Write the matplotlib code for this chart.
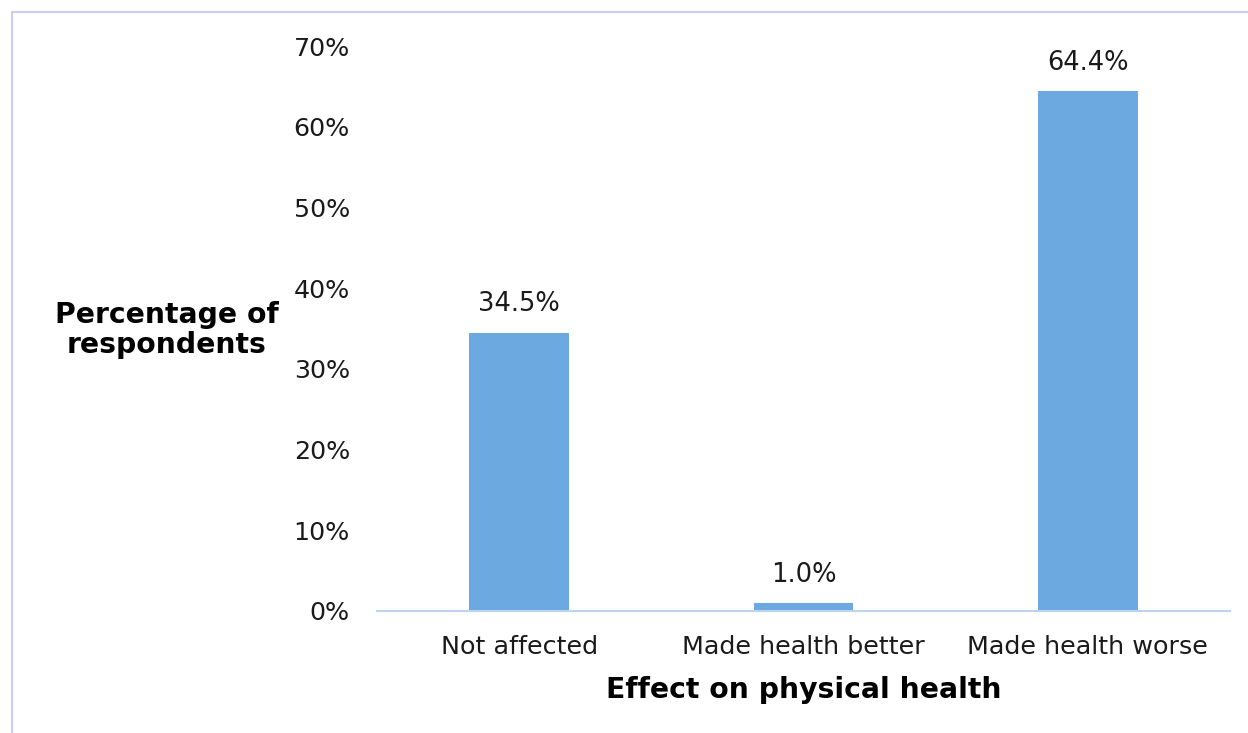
import matplotlib.pyplot as plt
from matplotlib.lines import Line2D
from matplotlib.ticker import FuncFormatter

categories = ['Not affected', 'Made health better', 'Made health worse']
percentages = [34.5, 1.0, 64.4]
y_ticks = [0, 10, 20, 30, 40, 50, 60, 70]

BAR_COLOR = '#6CA9E1'
AXIS_COLOR = '#BDD4EE'
BORDER_COLOR = '#C9CEF4'
TEXT_COLOR = '#1A1A1A'


def main():
    plt.rcParams['font.family'] = ['DejaVu Sans']

    fig = plt.figure(figsize=(12.48, 7.33), dpi=100)
    W, H = 1248, 733
    ax = fig.add_axes([377 / W, 1 - 611 / H, (1230 - 377) / W, (611 - 46) / H])

    x = range(len(categories))
    ax.bar(x, percentages, width=0.35, color=BAR_COLOR, zorder=2)

    for xi, v in zip(x, percentages):
        ax.annotate(f'{v:.1f}%', (xi, v), xytext=(0, 11), textcoords='offset points',
                    ha='center', va='bottom', fontsize=18.5, color=TEXT_COLOR)

    ax.set_xlim(-0.5, len(categories) - 0.5)
    ax.set_ylim(0, 70)
    ax.set_yticks(y_ticks)
    ax.yaxis.set_major_formatter(FuncFormatter(lambda v, _: f'{v:.0f}%'))
    ax.set_xticks(list(x))
    ax.set_xticklabels(categories)
    ax.tick_params(axis='both', length=0, labelsize=18.3, colors=TEXT_COLOR)
    ax.tick_params(axis='y', pad=19.5)
    ax.tick_params(axis='x', pad=17)

    for side in ('top', 'right', 'left'):
        ax.spines[side].set_visible(False)
    ax.spines['bottom'].set_color(AXIS_COLOR)
    ax.spines['bottom'].set_linewidth(1.5)

    fig.text(167 / W, 1 - 330 / H, 'Percentage of\nrespondents', ha='center', va='center',
             fontsize=20.3, fontweight='bold', color='black', linespacing=1.1)
    fig.text(804 / W, 1 - 690 / H, 'Effect on physical health', ha='center', va='center',
             fontsize=20.3, fontweight='bold', color='black')

    # thin frame along the top and left edges
    fig.add_artist(Line2D([12 / W, 12 / W], [0, 1 - 12 / H], color=BORDER_COLOR, lw=1.5))
    fig.add_artist(Line2D([12 / W, 1], [1 - 12 / H, 1 - 12 / H], color=BORDER_COLOR, lw=1.5))

    fig.savefig('out.png', dpi=100)


if __name__ == '__main__':
    main()
